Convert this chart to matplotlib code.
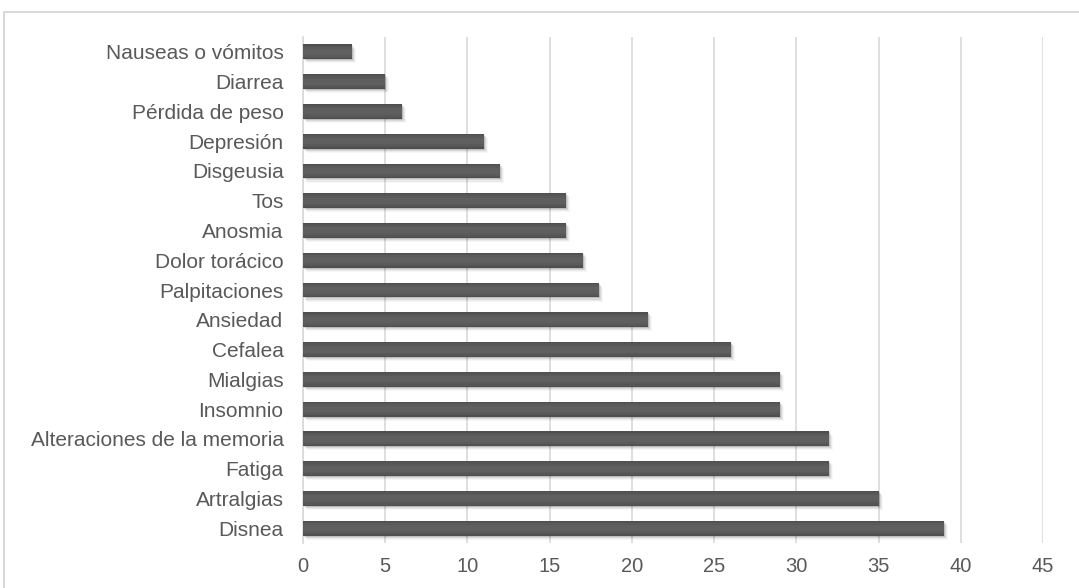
import matplotlib
matplotlib.use("Agg")
import matplotlib.pyplot as plt
from matplotlib.patches import Rectangle

plt.rcParams['font.family'] = ['Liberation Sans', 'DejaVu Sans']

sintomas = ["Disnea", "Artralgias", "Fatiga", "Alteraciones de la memoria", "Insomnio",
            "Mialgias", "Cefalea", "Ansiedad", "Palpitaciones", "Dolor torácico",
            "Anosmia", "Tos", "Disgeusia", "Depresión", "Pérdida de peso",
            "Diarrea", "Nauseas o vómitos"]
pacientes = [39, 35, 32, 32, 29, 29, 26, 21, 18, 17, 16, 16, 12, 11, 6, 5, 3]
xticks = [0, 5, 10, 15, 20, 25, 30, 35, 40, 45]

W, H = 1079, 588
fig = plt.figure(figsize=(W / 100, H / 100), dpi=100)

# light frame around the chart area
fig.patches.append(Rectangle((4 / W, -0.05), 1.2, 1 - 12 / H + 0.05,
                             transform=fig.transFigure, fill=False,
                             edgecolor="#d9d9d9", linewidth=1.5))

ax = fig.add_axes([303 / W, 1 - 543 / H, (1043 - 303) / W, (543 - 37) / H])
ypos = list(range(len(sintomas)))

# soft drop shadow below each bar
for k, a in enumerate([0.12, 0.08, 0.05, 0.03]):
    off = 0.035 * (k + 1)
    ax.barh([y - off for y in ypos], pacientes, height=0.5, left=0.06 * (k + 1),
            color="black", alpha=a, linewidth=0, zorder=2)
# bars with a gentle vertical gradient (lighter towards the middle)
for h, c in [(0.5, "#4f4f4f"), (0.42, "#555555"), (0.32, "#5a5a5a"), (0.2, "#5f5f5f")]:
    ax.barh(ypos, pacientes, height=h, color=c, linewidth=0, zorder=3)

ax.set_xlim(0, 45)
ax.set_ylim(-0.5, len(sintomas) - 0.5)
ax.set_xticks(xticks)
ax.set_yticks(ypos)
ax.set_yticklabels(sintomas)
ax.tick_params(axis="both", length=0, labelcolor="#595959")
ax.tick_params(axis="y", pad=14, labelsize=15)
ax.tick_params(axis="x", pad=10, labelsize=14.5)
ax.grid(axis="x", color="#d9d9d9", linewidth=1.2, zorder=0)
ax.set_axisbelow(True)
for s in ["top", "right", "bottom"]:
    ax.spines[s].set_visible(False)
ax.spines["left"].set_color("#d9d9d9")
ax.spines["left"].set_linewidth(1.2)

fig.savefig("out.png", dpi=100)
